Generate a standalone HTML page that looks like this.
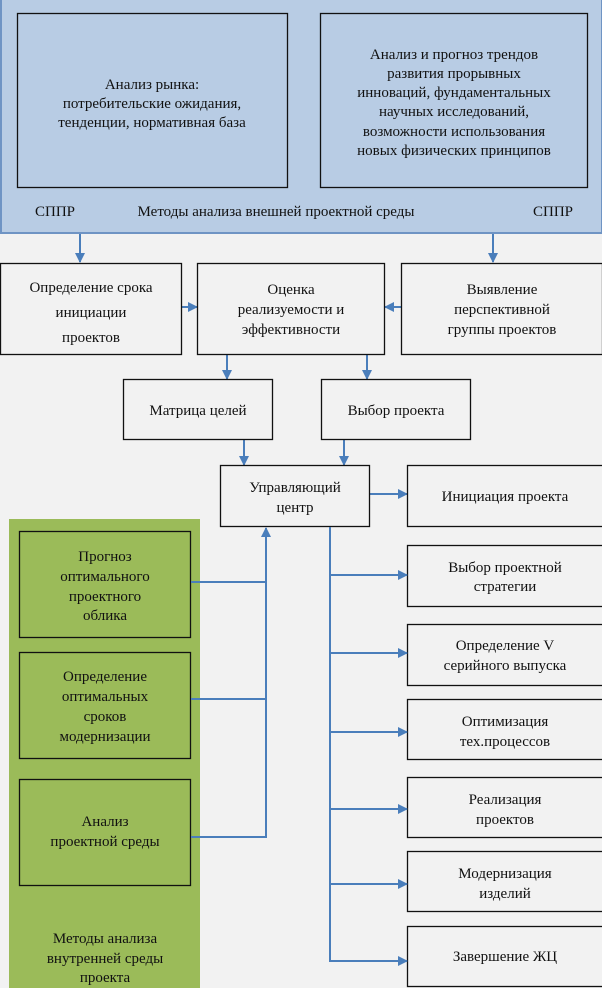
<!DOCTYPE html>
<html><head><meta charset="utf-8"><style>
html,body{margin:0;padding:0;background:#f2f2f2;}
svg{display:block;}
text{font-family:"Liberation Serif",serif;font-size:15px;fill:#111;text-anchor:middle;}
</style></head><body>
<svg width="602" height="988" viewBox="0 0 602 988" xmlns="http://www.w3.org/2000/svg">
<defs>
<marker id="a" markerWidth="10" markerHeight="10" refX="9" refY="5" orient="auto" markerUnits="userSpaceOnUse">
<path d="M0,0 L10,5 L0,10 z" fill="#4a7ebb"/></marker>
</defs>
<rect x="0" y="0" width="602" height="988" fill="#f2f2f2"/>
<!-- top panel -->
<rect x="1" y="-2" width="601" height="235" fill="#b8cce4" stroke="#6f94c4" stroke-width="2"/>
<rect x="17.5" y="13.5" width="270" height="174" fill="#b8cce4" stroke="#111" stroke-width="1.3"/>
<rect x="320.5" y="13.5" width="267" height="174" fill="#b8cce4" stroke="#111" stroke-width="1.3"/>
<text x="152" y="89">Анализ рынка:</text>
<text x="152" y="108">потребительские ожидания,</text>
<text x="152" y="127">тенденции, нормативная база</text>
<text x="454" y="59">Анализ и прогноз трендов</text>
<text x="454" y="78">развития прорывных</text>
<text x="454" y="97">инноваций, фундаментальных</text>
<text x="454" y="116">научных исследований,</text>
<text x="454" y="136">возможности использования</text>
<text x="454" y="155">новых физических принципов</text>
<text x="55" y="216">СППР</text>
<text x="276" y="216">Методы анализа внешней проектной среды</text>
<text x="553" y="216">СППР</text>
<!-- arrows from panel -->
<g stroke="#4a7ebb" stroke-width="2" fill="none">
<line x1="80" y1="234" x2="80" y2="262" marker-end="url(#a)"/>
<line x1="493" y1="234" x2="493" y2="262" marker-end="url(#a)"/>
<line x1="181" y1="307" x2="197" y2="307" marker-end="url(#a)"/>
<line x1="401" y1="307" x2="385" y2="307" marker-end="url(#a)"/>
<line x1="227" y1="354" x2="227" y2="379" marker-end="url(#a)"/>
<line x1="367" y1="354" x2="367" y2="379" marker-end="url(#a)"/>
<line x1="244" y1="439" x2="244" y2="465" marker-end="url(#a)"/>
<line x1="344" y1="439" x2="344" y2="465" marker-end="url(#a)"/>
<line x1="370" y1="494" x2="407" y2="494" marker-end="url(#a)"/>
</g>
<g fill="#f2f2f2" stroke="#111" stroke-width="1.3">
<rect x="0.5" y="263.5" width="181" height="91"/>
<rect x="197.5" y="263.5" width="187" height="91"/>
<rect x="401.5" y="263.5" width="201" height="91"/>
<rect x="123.5" y="379.5" width="149" height="60"/>
<rect x="321.5" y="379.5" width="149" height="60"/>
<rect x="220.5" y="465.5" width="149" height="61"/>
<rect x="407.5" y="465.5" width="196" height="61"/>
<rect x="407.5" y="545.5" width="196" height="61"/>
<rect x="407.5" y="624.5" width="196" height="61"/>
<rect x="407.5" y="699.5" width="196" height="60"/>
<rect x="407.5" y="777.5" width="196" height="60"/>
<rect x="407.5" y="851.5" width="196" height="60"/>
<rect x="407.5" y="926.5" width="196" height="60"/>
</g>
<text x="91" y="292">Определение срока</text>
<text x="91" y="317">инициации</text>
<text x="91" y="342">проектов</text>
<text x="291" y="294">Оценка</text>
<text x="291" y="314">реализуемости и</text>
<text x="291" y="334">эффективности</text>
<text x="502" y="294">Выявление</text>
<text x="502" y="314">перспективной</text>
<text x="502" y="334">группы проектов</text>
<text x="198" y="415">Матрица целей</text>
<text x="396" y="415">Выбор проекта</text>
<text x="295" y="492">Управляющий</text>
<text x="295" y="512">центр</text>
<text x="505" y="501">Инициация проекта</text>
<text x="505" y="572">Выбор проектной</text>
<text x="505" y="591">стратегии</text>
<text x="505" y="650">Определение V</text>
<text x="505" y="670">серийного выпуска</text>
<text x="505" y="726">Оптимизация</text>
<text x="505" y="746">тех.процессов</text>
<text x="505" y="804">Реализация</text>
<text x="505" y="824">проектов</text>
<text x="505" y="878">Модернизация</text>
<text x="505" y="898">изделий</text>
<text x="505" y="961">Завершение ЖЦ</text>
<!-- right branch lines -->
<g stroke="#4a7ebb" stroke-width="2" fill="none">
<line x1="330" y1="527" x2="330" y2="961"/>
<line x1="330" y1="575" x2="407" y2="575" marker-end="url(#a)"/>
<line x1="330" y1="653" x2="407" y2="653" marker-end="url(#a)"/>
<line x1="330" y1="732" x2="407" y2="732" marker-end="url(#a)"/>
<line x1="330" y1="809" x2="407" y2="809" marker-end="url(#a)"/>
<line x1="330" y1="884" x2="407" y2="884" marker-end="url(#a)"/>
<line x1="329" y1="961" x2="407" y2="961" marker-end="url(#a)"/>
</g>
<!-- green panel -->
<rect x="9" y="519" width="191" height="469" fill="#9bbb59"/>
<g fill="#9bbb59" stroke="#111" stroke-width="1.3">
<rect x="19.5" y="531.5" width="171" height="106"/>
<rect x="19.5" y="652.5" width="171" height="106"/>
<rect x="19.5" y="779.5" width="171" height="106"/>
</g>
<text x="105" y="561">Прогноз</text>
<text x="105" y="581">оптимального</text>
<text x="105" y="601">проектного</text>
<text x="105" y="620">облика</text>
<text x="105" y="681">Определение</text>
<text x="105" y="701">оптимальных</text>
<text x="105" y="721">сроков</text>
<text x="105" y="741">модернизации</text>
<text x="105" y="826">Анализ</text>
<text x="105" y="846">проектной среды</text>
<text x="105" y="943">Методы анализа</text>
<text x="105" y="963">внутренней среды</text>
<text x="105" y="982">проекта</text>
<g stroke="#4a7ebb" stroke-width="2" fill="none">
<line x1="191" y1="582" x2="266" y2="582"/>
<line x1="191" y1="699" x2="266" y2="699"/>
<line x1="191" y1="837" x2="267" y2="837"/>
<line x1="266" y1="837" x2="266" y2="528" marker-end="url(#a)"/>
</g>
</svg>
</body></html>
